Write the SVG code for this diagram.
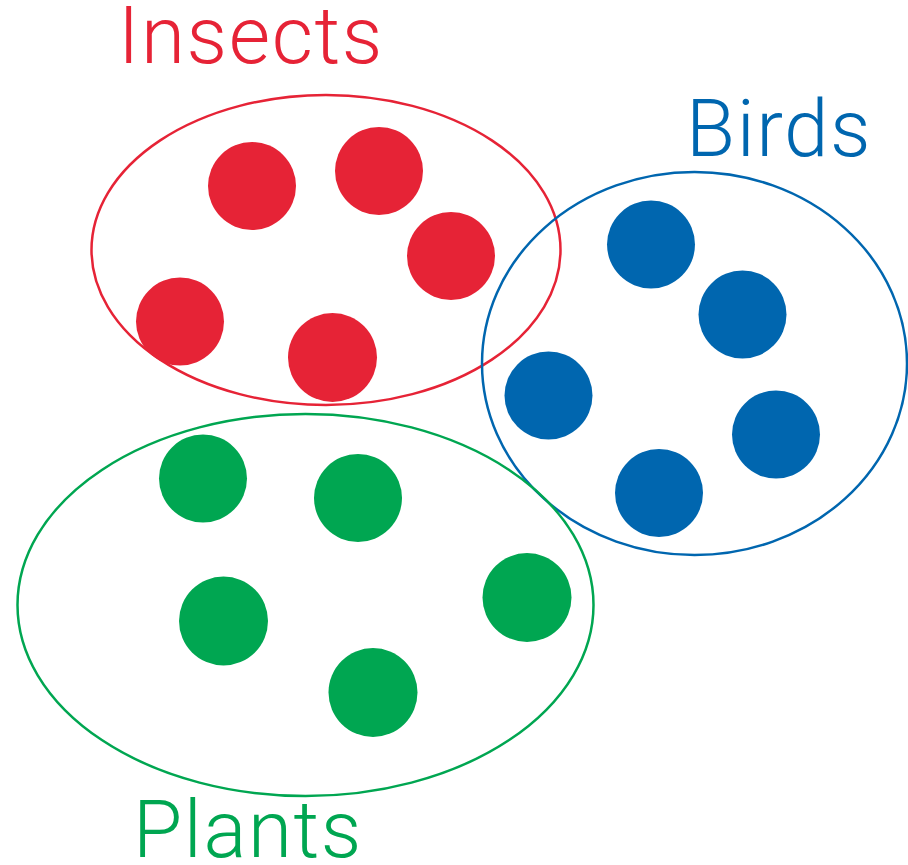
<svg xmlns="http://www.w3.org/2000/svg" width="908" height="865" viewBox="0 0 908 865">
<style>
.lbl{font-family:Roboto,"Liberation Sans",Arial,sans-serif;font-weight:300;font-size:80px;letter-spacing:1.6px}
.ring{fill:none;stroke-width:2.5}
.red{fill:#E62336}.blue{fill:#0066AF}.green{fill:#00A651}
</style>
<rect width="908" height="865" fill="#fff"/>
<g id="insects">
<ellipse class="ring" cx="326" cy="250" rx="234.5" ry="155" stroke="#E62336"/>
<g class="red">
<circle cx="252" cy="186" r="44"/>
<circle cx="379" cy="171" r="44"/>
<circle cx="451" cy="256" r="44"/>
<circle cx="180" cy="321.5" r="44"/>
<circle cx="332.5" cy="357.5" r="44.5"/>
</g>
<text class="lbl" x="118" y="63" fill="#E62336">Insects</text>
</g>
<g id="birds">
<ellipse class="ring" cx="694.5" cy="363.5" rx="212.5" ry="191.5" stroke="#0066AF"/>
<g class="blue">
<circle cx="651" cy="244.5" r="44"/>
<circle cx="742.5" cy="314.5" r="44"/>
<circle cx="548.5" cy="395.5" r="44"/>
<circle cx="776" cy="434.5" r="44"/>
<circle cx="659" cy="493" r="44"/>
</g>
<text class="lbl" x="686" y="156" fill="#0066AF">Birds</text>
</g>
<g id="plants">
<ellipse class="ring" cx="305.5" cy="605" rx="288" ry="191" stroke="#00A651"/>
<g class="green">
<circle cx="203" cy="478.5" r="44"/>
<circle cx="358" cy="498" r="44"/>
<circle cx="223.5" cy="621" r="44.5"/>
<circle cx="527" cy="597.5" r="44.5"/>
<circle cx="373" cy="692.5" r="44.5"/>
</g>
<text class="lbl" x="133" y="857" fill="#00A651">Plants</text>
</g>
<g id="connectors"/>
</svg>
